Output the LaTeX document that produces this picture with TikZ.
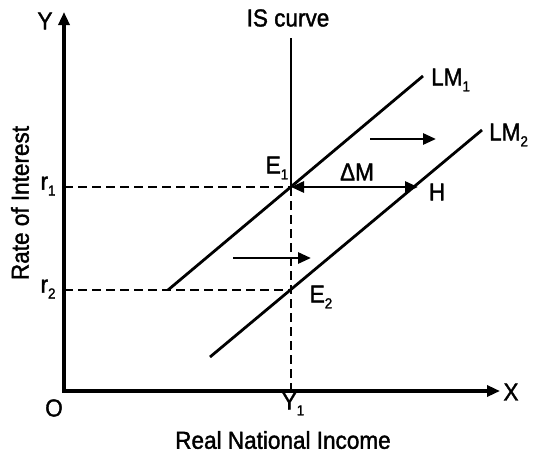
\documentclass[tikz,border=0pt]{standalone}
\usepackage{fontspec}
\setmainfont{Liberation Sans}
\newfontfamily\lblfont[FakeStretch=0.92,FakeBold=1.5]{Liberation Sans}
\usetikzlibrary{arrows.meta}
\newcommand\lowsub[1]{\raisebox{-0.45ex}{\fontsize{14.5}{15}\selectfont #1}}
\begin{document}
\begin{tikzpicture}[x=1pt,y=-1pt,
  lbl/.style={inner sep=0pt, font=\lblfont\fontsize{24.5}{28}\selectfont},
  axis/.style={line width=3.2pt},
  curve/.style={line width=2.8pt},
  dsh/.style={line width=2.5pt, dash pattern=on 9pt off 5pt},
  tip/.style={-{Triangle[length=13pt,width=11pt]}},
  dtip/.style={{Triangle[length=13pt,width=11pt]}-{Triangle[length=13pt,width=11pt]}}]
\useasboundingbox (0,0) rectangle (535,453);
% axes
\coordinate (O) at (64,391);
\coordinate (Ytop) at (64,12);
\coordinate (Xend) at (500,391);
\draw[axis,{Triangle[length=13pt,width=11pt]}-{Triangle[length=13pt,width=11pt]}] (Ytop) -- (O) -- (Xend);
\node[lbl] (ylab) at (45,21) {Y};
\node[lbl] (xlab) at (511,392) {X};
\node[lbl] (olab) at (54,408) {O};
% key points
\coordinate (E1) at (291,187);
\coordinate (E2) at (291,290);
\coordinate (H) at (418,187);
\coordinate (Y1) at (291,391);
\coordinate (R1) at (64,187);
\coordinate (R2) at (64,290);
% IS curve
\node[lbl] (islab) at (288,18) {IS curve};
\coordinate (IStop) at (291,38);
\draw[curve] (IStop) -- (E1);
\draw[dsh] (E1) -- (Y1);
% dashed levels
\draw[dsh] (R1) -- (E1);
\draw[dsh] (R2) -- (E2);
% LM curves
\coordinate (LM1a) at (168,290);
\coordinate (LM1b) at (423,76);
\coordinate (LM2a) at (210,357);
\coordinate (LM2b) at (482,130);
\draw[curve] (LM1a) -- (LM1b);
\draw[curve] (LM2a) -- (LM2b);
\node[lbl,anchor=west] (lm1lab) at (431,80) {LM\lowsub{1}};
\node[lbl,anchor=west] (lm2lab) at (489,135) {LM\lowsub{2}};
% Delta M
\draw[curve,dtip] (E1) -- (H);
\node[lbl] (dmlab) at (357,172) {ΔM};
\node[lbl] (hlab) at (437,192) {H};
\node[lbl] (e1lab) at (277,168) {E\lowsub{1}};
\node[lbl] (e2lab) at (321,297) {E\lowsub{2}};
% shift arrows
\coordinate (A1s) at (370,139);
\coordinate (A1e) at (436,139);
\coordinate (A2s) at (233,258);
\coordinate (A2e) at (311,258);
\draw[curve,tip] (A1s) -- (A1e);
\draw[curve,tip] (A2s) -- (A2e);
% axis labels
\node[lbl] (r1lab) at (48,186) {r\lowsub{1}};
\node[lbl] (r2lab) at (48,289) {r\lowsub{2}};
\node[lbl] (y1lab) at (293,404) {Y\lowsub{1}};
\node[lbl] (xname) at (283,440) {Real National Income};
\node[lbl,rotate=90] (yname) at (20,203) {Rate of Interest};
\end{tikzpicture}
\end{document}
